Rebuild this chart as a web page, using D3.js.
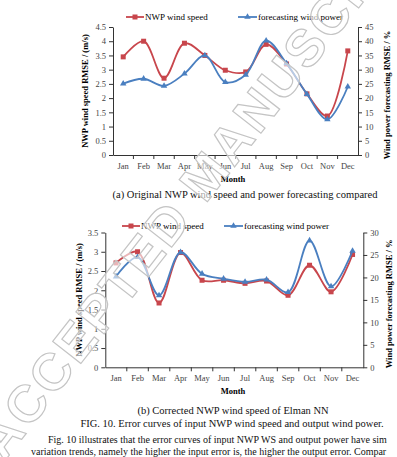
<!DOCTYPE html>
<meta charset="utf-8">
<style>
  body { margin: 0; background: #fff; }
  svg { display: block; font-family: "Liberation Serif", "Times New Roman", serif; }
  .tick text { fill: #444; }
</style>
<svg width="397" height="457"></svg>
<script src="https://cdn.jsdelivr.net/npm/d3@7"></script>
<script>

var months = ["Jan", "Feb", "Mar", "Apr", "May", "Jun", "Jul", "Aug", "Sep", "Oct", "Nov", "Dec"];

// (a) original NWP
var nwpSpeedA = [3.45, 4.0, 2.7, 3.93, 3.5, 2.98, 2.92, 3.89, 3.2, 2.15, 1.37, 3.66];
var powerA = [25.1, 26.8, 24.3, 28.6, 35, 25.6, 28.2, 40.2, 32.2, 21.4, 12.5, 24.0];
var leftTicksA = [0, 0.5, 1, 1.5, 2, 2.5, 3, 3.5, 4, 4.5];
var rightTicksA = [0, 5, 10, 15, 20, 25, 30, 35, 40, 45];

// (b) corrected by Elman NN
var nwpSpeedB = [2.71, 3.0, 1.67, 2.98, 2.26, 2.26, 2.18, 2.24, 1.87, 2.65, 1.96, 2.93];
var powerB = [20.2, 24.5, 16.0, 25.6, 20.8, 19.7, 19.0, 19.5, 16.7, 28.2, 18.0, 25.9];
var leftTicksB = [0, 0.5, 1, 1.5, 2, 2.5, 3, 3.5];
var rightTicksB = [0, 5, 10, 15, 20, 25, 30];

var red = "#c8464c", blue = "#4a7fc0";

var svg = d3.select("svg");

function drawChart(opt) {
  var g = svg.append("g");

  var x = d3.scaleBand().domain(months).range([opt.left, opt.right]);
  var yL = d3.scaleLinear().domain([0, opt.leftMax]).range([opt.bottom, opt.top]);
  var yR = d3.scaleLinear().domain([0, opt.rightMax]).range([opt.bottom, opt.top]);
  var cx = function(d, i) { return x(months[i]) + x.bandwidth() / 2; };

  // axes
  var ax = g.append("g").attr("transform", "translate(0," + opt.bottom + ")")
      .call(d3.axisBottom(x).tickSize(0).tickPadding(8).tickSizeOuter(0));
  ax.selectAll(".tick line").remove();
  // tick marks between categories
  ax.selectAll(".sep").data(months.slice(1)).enter().append("line")
      .attr("x1", function(d) { return x(d); }).attr("x2", function(d) { return x(d); })
      .attr("y1", 0).attr("y2", 4);

  var fmt = function(d) { return String(d); };
  var al = g.append("g").attr("transform", "translate(" + opt.left + ",0)")
      .call(d3.axisLeft(yL).tickValues(opt.leftTicks).tickFormat(fmt)
        .tickSize(4).tickSizeOuter(0).tickPadding(3));
  var ar = g.append("g").attr("transform", "translate(" + opt.right + ",0)")
      .call(d3.axisRight(yR).tickValues(opt.rightTicks).tickFormat(fmt)
        .tickSize(4).tickSizeOuter(0).tickPadding(3));
  [ax, al, ar].forEach(function(a) {
    a.attr("font-family", null).attr("font-size", 8.5);
    a.selectAll("path, line").attr("stroke", "#333");
  });

  // axis titles
  g.append("text")
      .attr("transform", "translate(" + opt.leftTitleX + "," + (opt.top + opt.bottom) / 2 + ") rotate(-90)")
      .attr("text-anchor", "middle").attr("font-weight", "bold").attr("font-size", 8.5)
      .text("NWP wind speed RMSE / (m/s)");
  g.append("text")
      .attr("transform", "translate(" + opt.rightTitleX + "," + ((opt.top + opt.bottom) / 2 + 4) + ") rotate(-90)")
      .attr("text-anchor", "middle").attr("font-weight", "bold").attr("font-size", 8.5)
      .text("Wind power forecasting RMSE / %");
  g.append("text")
      .attr("x", opt.monthX).attr("y", opt.bottom + 27)
      .attr("text-anchor", "middle").attr("font-weight", "bold").attr("font-size", 8.5)
      .text("Month");

  var curve = d3.curveCatmullRom.alpha(0.5);
  var lineL = d3.line().x(cx).y(function(d) { return yL(d); }).curve(curve);
  var lineR = d3.line().x(cx).y(function(d) { return yR(d); }).curve(curve);

  g.append("path").datum(opt.speed).attr("d", lineL)
      .attr("fill", "none").attr("stroke", red).attr("stroke-width", 1.8);
  g.selectAll(".sq").data(opt.speed).enter().append("rect")
      .attr("x", function(d, i) { return cx(d, i) - 2.5; })
      .attr("y", function(d) { return yL(d) - 2.5; })
      .attr("width", 5).attr("height", 5).attr("fill", red);

  var tri = d3.symbol().type(d3.symbolTriangle).size(18);
  g.append("path").datum(opt.power).attr("d", lineR)
      .attr("fill", "none").attr("stroke", blue).attr("stroke-width", 1.8);
  g.selectAll(".tri").data(opt.power).enter().append("path")
      .attr("d", tri)
      .attr("transform", function(d, i) { return "translate(" + cx(d, i) + "," + yR(d) + ")"; })
      .attr("fill", blue);

  // legend
  var lg = g.append("g").attr("font-size", 9);
  lg.append("line").attr("x1", opt.legRed).attr("x2", opt.legRed + 18)
      .attr("y1", opt.legY).attr("y2", opt.legY).attr("stroke", red).attr("stroke-width", 1.8);
  lg.append("rect").attr("x", opt.legRed + 6.5).attr("y", opt.legY - 2.5)
      .attr("width", 5).attr("height", 5).attr("fill", red);
  lg.append("text").attr("x", opt.legRed + 19).attr("y", opt.legY + 3).text("NWP wind speed");
  lg.append("line").attr("x1", opt.legBlue).attr("x2", opt.legBlue + 19)
      .attr("y1", opt.legY).attr("y2", opt.legY).attr("stroke", blue).attr("stroke-width", 1.8);
  lg.append("path").attr("d", tri)
      .attr("transform", "translate(" + (opt.legBlue + 9.5) + "," + opt.legY + ")").attr("fill", blue);
  lg.append("text").attr("x", opt.legBlue + 20).attr("y", opt.legY + 3).text("forecasting wind power");
}

drawChart({
  left: 113, right: 358, top: 27, bottom: 155,
  leftMax: 4.5, rightMax: 45, leftTicks: leftTicksA, rightTicks: rightTicksA,
  speed: nwpSpeedA, power: powerA,
  leftTitleX: 88, rightTitleX: 390, monthX: 233,
  legY: 17, legRed: 126, legBlue: 238
});

drawChart({
  left: 105.3, right: 363.3, top: 232.5, bottom: 367.3,
  leftMax: 3.5, rightMax: 30, leftTicks: leftTicksB, rightTicks: rightTicksB,
  speed: nwpSpeedB, power: powerB,
  leftTitleX: 82, rightTitleX: 392, monthX: 233,
  legY: 226, legRed: 122, legBlue: 224
});

// captions and body text (body text is cropped at the page edge in the scan)
var cap = svg.append("g").attr("font-size", 10.5).attr("fill", "#111");
cap.append("text").attr("x", 245).attr("y", 198).attr("text-anchor", "middle")
    .text("(a) Original NWP wind speed and power forecasting compared");
cap.append("text").attr("x", 233).attr("y", 414).attr("text-anchor", "middle")
    .text("(b) Corrected NWP wind speed of Elman NN");
cap.append("text").attr("x", 232).attr("y", 427).attr("text-anchor", "middle")
    .text("FIG. 10. Error curves of input NWP wind speed and output wind power.");
cap.append("text").attr("x", 48).attr("y", 443).attr("font-size", 10)
    .text("Fig. 10 illustrates that the error curves of input NWP WS and output power have sim");
cap.append("text").attr("x", 31).attr("y", 455).attr("font-size", 10)
    .text("variation trends, namely the higher the input error is, the higher the output error. Compar");

// watermark
svg.append("text")
    .attr("transform", "translate(4,462) rotate(-52)")
    .attr("font-family", "Liberation Sans, Arial, sans-serif")
    .attr("font-weight", "bold")
    .attr("font-size", 52)
    .attr("textLength", 700).attr("lengthAdjust", "spacing")
    .attr("fill", "#fff").attr("fill-opacity", 0.6)
    .attr("stroke", "#c4c4c4").attr("stroke-width", 1.2)
    .text("ACCEPTED MANUSCRIPT");

</script>
